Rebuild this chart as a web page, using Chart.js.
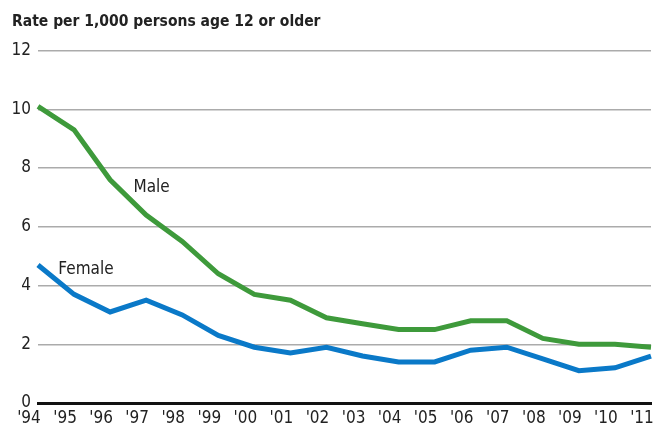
<!DOCTYPE html>
<html>
<head>
<meta charset="utf-8">
<script src="https://cdn.jsdelivr.net/npm/chart.js@4/dist/chart.umd.min.js"></script>
<style>
  html, body { margin: 0; padding: 0; background: #fff; }
  #chart { display: block; }
</style>
</head>
<body>
<canvas id="chart" width="657" height="431"></canvas>
<script>
// years shown on the x axis
const years = ["'94", "'95", "'96", "'97", "'98", "'99", "'00", "'01", "'02", "'03",
               "'04", "'05", "'06", "'07", "'08", "'09", "'10", "'11"];

// rate per 1,000 persons age 12 or older
const male = [10.1, 9.3, 7.6, 6.4, 5.5, 4.4, 3.7, 3.5, 2.9, 2.7, 2.5, 2.5, 2.8, 2.8, 2.2, 2.0, 2.0, 1.9];
const female = [4.7, 3.7, 3.1, 3.5, 3.0, 2.3, 1.9, 1.7, 1.9, 1.6, 1.4, 1.4, 1.8, 1.9, 1.5, 1.1, 1.2, 1.6];

const yTicks = [0, 2, 4, 6, 8, 10, 12];

const fontFam = "'Liberation Sans Narrow', 'DejaVu Sans Condensed', sans-serif";

// line labels placed in data coordinates (x = year index)
const seriesLabels = [
  { text: 'Male', x: 3.15, y: 7.35 },
  { text: 'Female', x: 1.33, y: 4.56 },
];

const labelPlugin = {
  id: 'seriesLabels',
  afterDatasetsDraw(chart) {
    const ctx = chart.ctx;
    const xs = chart.scales.x, ys = chart.scales.y;
    ctx.save();
    ctx.font = '17px ' + fontFam;
    ctx.fillStyle = '#222';
    ctx.textAlign = 'center';
    ctx.textBaseline = 'middle';
    seriesLabels.forEach(l => {
      const px = xs.left + (xs.right - xs.left) * l.x / (years.length - 1);
      ctx.fillText(l.text, px, ys.getPixelForValue(l.y));
    });
    ctx.restore();
  }
};

new Chart(document.getElementById('chart').getContext('2d'), {
  type: 'line',
  data: {
    labels: years,
    datasets: [
      { label: 'Male', data: male, borderColor: '#3e9a3b', borderWidth: 5, pointRadius: 0, fill: false, tension: 0 },
      { label: 'Female', data: female, borderColor: '#0a79c8', borderWidth: 5, pointRadius: 0, fill: false, tension: 0 },
    ],
  },
  options: {
    responsive: false,
    animation: false,
    layout: { padding: { left: 12, right: 6, top: 7, bottom: -3 } },
    plugins: {
      legend: { display: false },
      tooltip: { enabled: false },
      title: {
        display: true,
        text: 'Rate per 1,000 persons age 12 or older',
        align: 'start',
        color: '#222',
        font: { family: fontFam, size: 15.5, weight: 'bold' },
        padding: { top: 6, bottom: 19 },
      },
    },
    scales: {
      x: {
        type: 'category',
        offset: false,
        grid: { display: false, drawTicks: false },
        border: { display: true, color: '#111', width: 3 },
        ticks: { color: '#222', font: { family: fontFam, size: 17, lineHeight: 1 }, padding: 7, labelOffset: -9, maxRotation: 0, autoSkip: false },
        // labels sit left of the points, so the last one needs no extra room
        afterFit(scale) { scale.paddingRight = 0; },
      },
      y: {
        min: 0,
        max: 12,
        afterBuildTicks(axis) { axis.ticks = yTicks.map(v => ({ value: v })); },
        afterFit(scale) { scale.width = 26; },
        grid: { color: '#ababab', lineWidth: 1.5, drawTicks: false },
        border: { display: false },
        ticks: { color: '#222', font: { family: fontFam, size: 17 }, padding: 7 },
      },
    },
  },
  plugins: [labelPlugin],
});
</script>
</body>
</html>
